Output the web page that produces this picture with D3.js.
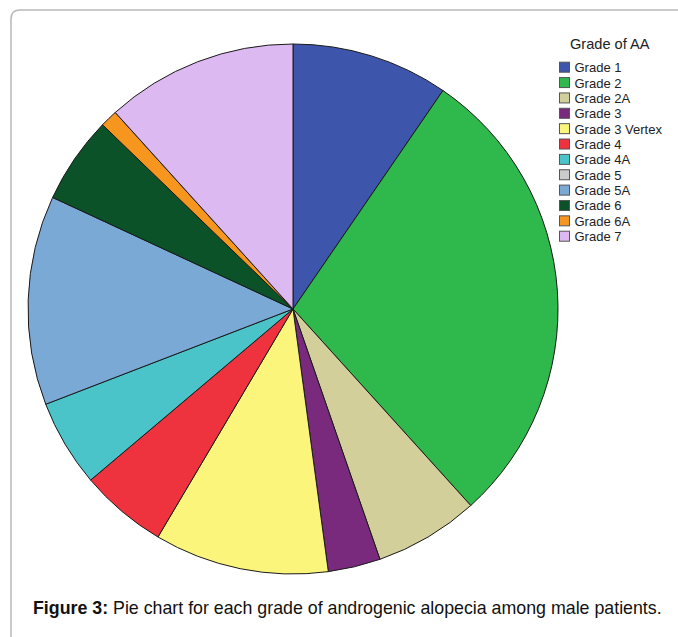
<!DOCTYPE html>
<html>
<head>
<meta charset="utf-8">
<script src="https://cdn.jsdelivr.net/npm/d3@7"></script>
<style>
  html, body { margin: 0; padding: 0; background: #fff; }
  svg { display: block; }
</style>
</head>
<body>
<svg id="chart" width="678" height="637"></svg>
<script>
// Grade of androgenic alopecia, patient counts per grade
const grades = ["Grade 1", "Grade 2", "Grade 2A", "Grade 3", "Grade 3 Vertex", "Grade 4",
                "Grade 4A", "Grade 5", "Grade 5A", "Grade 6", "Grade 6A", "Grade 7"];
const counts = [9, 27, 6, 3, 10, 5, 5, 0, 12, 5, 1, 11];
const colors = ["#3d56ab", "#2fb84b", "#d3cf9b", "#7a2a7d", "#fbf67b", "#ee333f",
                "#4ac3c9", "#cccccc", "#7ba9d6", "#0b5229", "#f6961f", "#ddb9f1"];

const svg = d3.select("#chart");
const W = 678, H = 637;

// Framed panel
svg.append("path")
  .attr("d", `M11,${H + 5} L11,19 Q11,10 20,10 L${W + 5},10`)
  .attr("fill", "none")
  .attr("stroke", "#b8b8b8")
  .attr("stroke-width", 1.5);

const data = grades.map((g, i) => ({ grade: g, count: counts[i], color: colors[i] }));

const cx = 293, cy = 309, r = 265;
const pie = d3.pie().value(d => d.count).sort(null);
const arc = d3.arc().innerRadius(0).outerRadius(r);

const g = svg.append("g").attr("transform", `translate(${cx},${cy})`);
g.selectAll("path")
  .data(pie(data).filter(d => d.data.count > 0))
  .join("path")
  .attr("d", arc)
  .attr("fill", d => d.data.color)
  .attr("stroke", "#1a1a1a")
  .attr("stroke-width", 1);

// Legend
const lg = svg.append("g").attr("font-family", "Arial, 'Liberation Sans', sans-serif");
lg.append("text")
  .attr("x", 570).attr("y", 49)
  .attr("font-size", 14.6).attr("fill", "#222")
  .text("Grade of AA");

const rowY = d3.scalePoint().domain(grades).range([67.7, 236.7]);
const rows = lg.selectAll("g.row").data(data).join("g").attr("class", "row")
  .attr("transform", d => `translate(0,${rowY(d.grade)})`);
rows.append("rect")
  .attr("x", 559.5).attr("y", -5.5).attr("width", 10).attr("height", 10)
  .attr("fill", d => d.color)
  .attr("stroke", "#555").attr("stroke-width", 1);
rows.append("text")
  .attr("x", 574.5).attr("y", 4.5)
  .attr("font-size", 13).attr("fill", "#222")
  .text(d => d.grade);

// Caption
const cap = svg.append("text")
  .attr("x", 33).attr("y", 614)
  .attr("font-family", "Arial, 'Liberation Sans', sans-serif")
  .attr("font-size", 17.8).attr("fill", "#111");
cap.append("tspan").attr("font-weight", "bold").text("Figure 3:");
cap.append("tspan").text(" Pie chart for each grade of androgenic alopecia among male patients.");
</script>
</body>
</html>
